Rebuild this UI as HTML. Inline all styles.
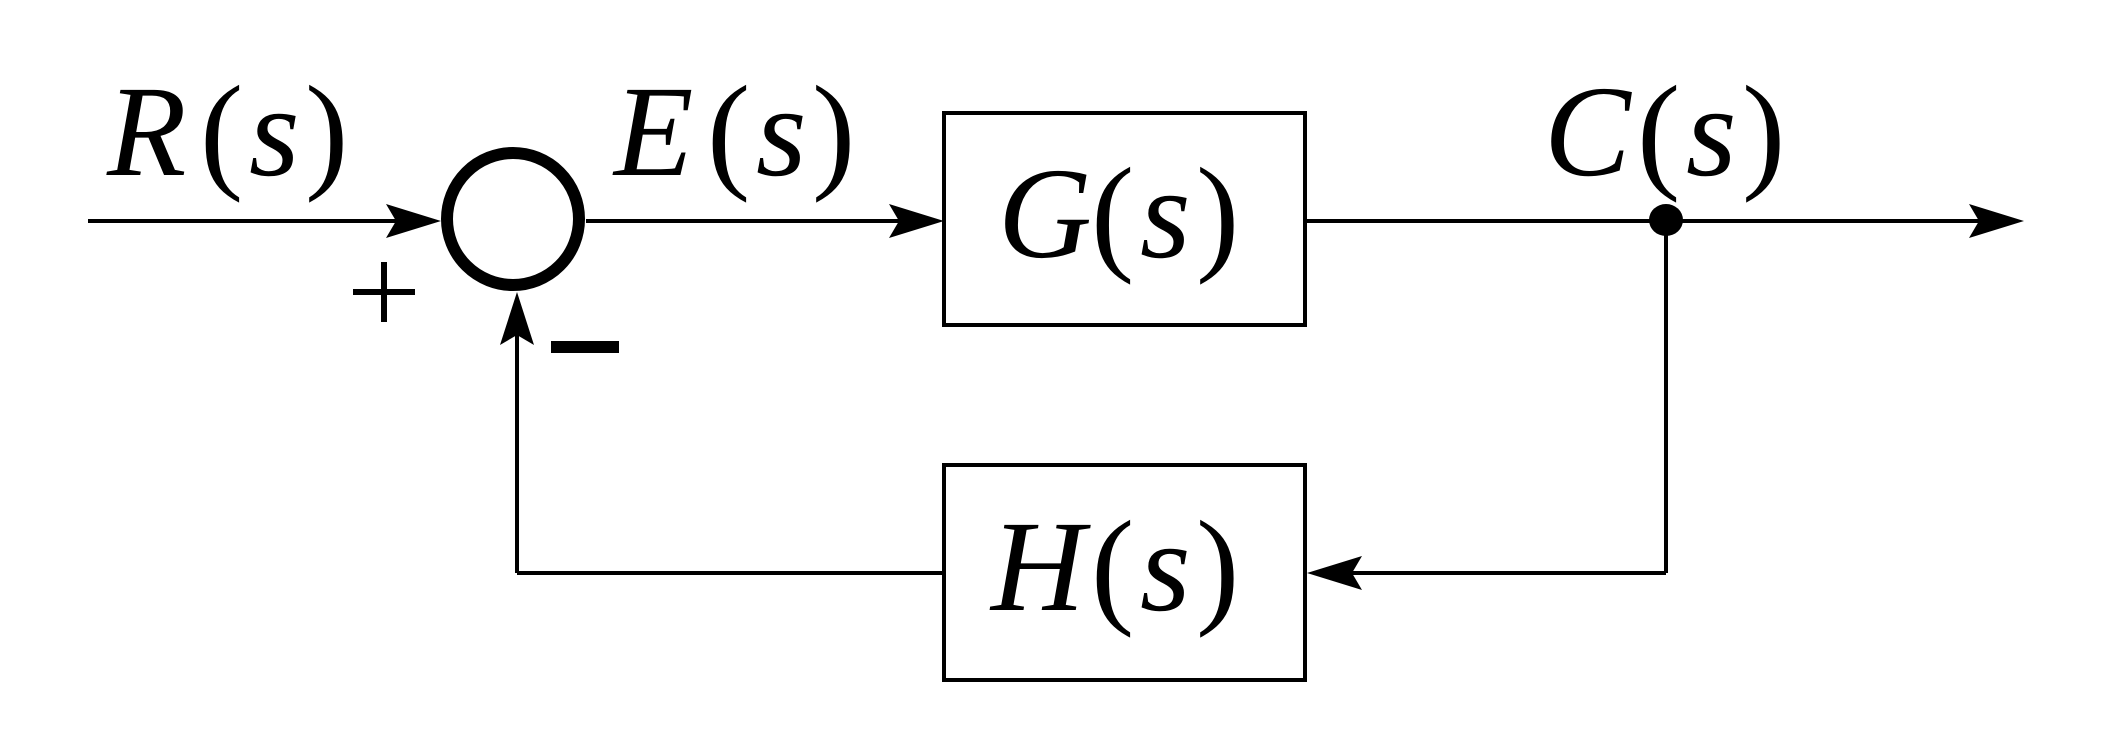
<!DOCTYPE html>
<html><head><style>
html,body{margin:0;padding:0;background:#fff}
svg{display:block;position:absolute;left:0;top:0}
.t{position:absolute;font-family:"Liberation Serif","Times New Roman",serif;font-size:130px;line-height:130px;white-space:nowrap;color:#000}
.t i{font-style:italic}
</style></head>
<body>
<svg width="2104" height="745" viewBox="0 0 2104 745" xmlns="http://www.w3.org/2000/svg">
<g stroke="#000" fill="none" stroke-width="4">
<line x1="88" y1="221" x2="420" y2="221"/>
<circle cx="513" cy="219" r="66" stroke-width="12"/>
<line x1="586" y1="221" x2="920" y2="221"/>
<rect x="944" y="113" width="361" height="212"/>
<line x1="1305" y1="221" x2="2000" y2="221"/>
<line x1="1666" y1="221" x2="1666" y2="573"/>
<line x1="1666" y1="573" x2="1330" y2="573"/>
<rect x="944" y="465" width="361" height="215"/>
<line x1="944" y1="573" x2="517" y2="573"/>
<line x1="517" y1="573" x2="517" y2="320"/>
</g>
<g fill="#000">
<path d="M441 221 L386 204 L396 221 L386 238 Z"/>
<path d="M944 221 L889 204 L899 221 L889 238 Z"/>
<path d="M2024 221 L1969 204 L1979 221 L1969 238 Z"/>
<path d="M1307 573 L1362 556 L1352 573 L1362 590 Z"/>
<path d="M517 292 L500 345 L517 335 L534 345 Z"/>
<ellipse cx="1666" cy="220" rx="17" ry="16"/>
<rect x="353" y="289" width="62" height="6"/>
<rect x="381" y="262" width="6" height="60"/>
<rect x="551" y="341" width="68" height="12"/>
</g>
</svg>
<div class="t" style="left:107px;top:67px"><i>R</i></div>
<div class="t" style="left:200px;top:67px">(</div>
<div class="t" style="left:249px;top:67px"><i>s</i></div>
<div class="t" style="left:305px;top:67px">)</div>

<div class="t" style="left:614px;top:67px"><i>E</i></div>
<div class="t" style="left:707px;top:67px">(</div>
<div class="t" style="left:756px;top:67px"><i>s</i></div>
<div class="t" style="left:812px;top:67px">)</div>

<div class="t" style="left:1544px;top:67px"><i>C</i></div>
<div class="t" style="left:1637px;top:67px">(</div>
<div class="t" style="left:1686px;top:67px"><i>s</i></div>
<div class="t" style="left:1742px;top:67px">)</div>

<div class="t" style="left:998px;top:149px"><i>G</i></div>
<div class="t" style="left:1091px;top:149px">(</div>
<div class="t" style="left:1140px;top:149px"><i>s</i></div>
<div class="t" style="left:1196px;top:149px">)</div>

<div class="t" style="left:991px;top:502px"><i>H</i></div>
<div class="t" style="left:1091px;top:502px">(</div>
<div class="t" style="left:1140px;top:502px"><i>s</i></div>
<div class="t" style="left:1196px;top:502px">)</div>
</body></html>
